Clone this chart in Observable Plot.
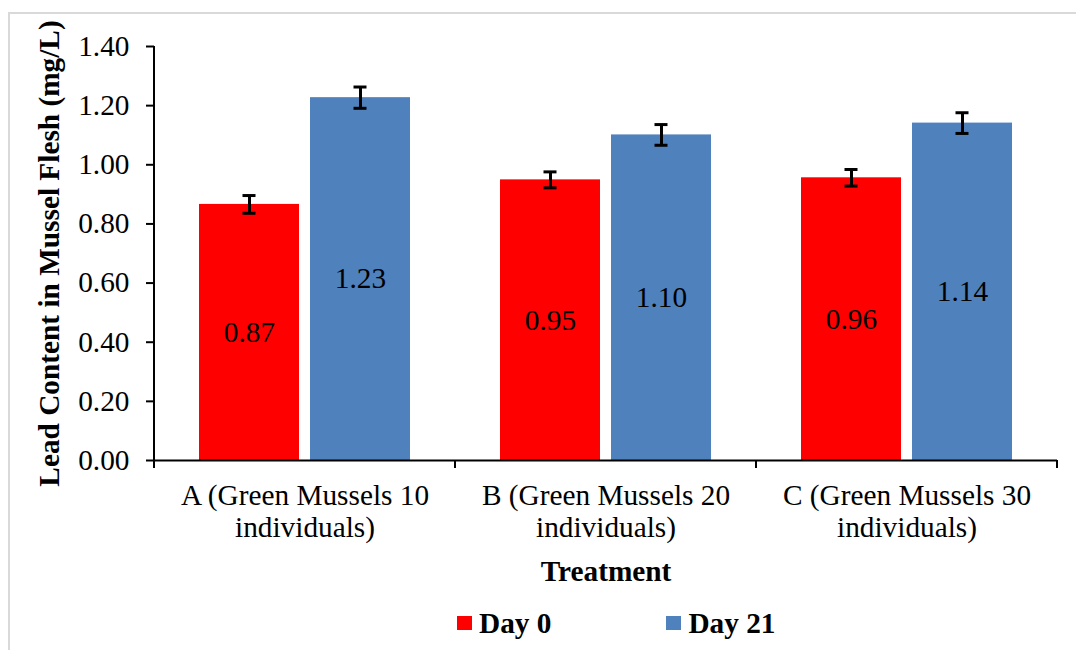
<!DOCTYPE html>
<html>
<head>
<meta charset="utf-8">
<script src="https://cdn.jsdelivr.net/npm/d3@7"></script>
<script src="https://cdn.jsdelivr.net/npm/@observablehq/plot@0.6"></script>
<style>
  body { margin: 0; background: #fff; }
  #wrap { position: relative; width: 1076px; height: 650px; overflow: hidden; font-family: "Liberation Serif", "Times New Roman", serif; }
  #frame { position: absolute; left: 8px; top: 12px; width: 1200px; height: 800px; border: 2px solid #d9d9d9; box-sizing: border-box; }
  #chart { position: absolute; left: 0; top: 0; }
  #legend { position: absolute; top: 607px; left: 457px; display: flex; gap: 115px; font-weight: bold; font-size: 29.3px; line-height: 32px; color: #000; }
  #legend .item { display: flex; align-items: center; }
  #legend .sw { width: 15px; height: 14px; margin-right: 7px; }
  #chart svg text { font-family: "Liberation Serif", "Times New Roman", serif; }
  [aria-label="y-axis label"] text, [aria-label="fx-axis label"] text { font-weight: bold; }
</style>
</head>
<body>
<div id="wrap">
  <div id="frame"></div>
  <div id="chart"></div>
  <div id="legend"></div>
</div>
<script>
// ---- data ----
const categories = ["A", "B", "C"];
const tickLabels = [
  "A (Green Mussels 10\nindividuals)",
  "B (Green Mussels 20\nindividuals)",
  "C (Green Mussels 30\nindividuals)"
];
const days = ["Day 0", "Day 21"];
const day0 = [0.866, 0.949, 0.956];
const day21 = [1.227, 1.101, 1.141];
const err0 = [0.030, 0.027, 0.028];
const err21 = [0.036, 0.035, 0.035];
const yTicks = [0, 0.2, 0.4, 0.6, 0.8, 1.0, 1.2, 1.4];
const colors = ["#FF0000", "#4F81BD"];
const yTitle = "Lead Content in Mussel Flesh (mg/L)";
const xTitle = "Treatment";

const data = categories.flatMap((c, i) => [
  {cat: c, day: days[0], value: day0[i], err: err0[i]},
  {cat: c, day: days[1], value: day21[i], err: err21[i]}
]);

const fmt = d3.format(".2f");
const serif = "'Liberation Serif', 'Times New Roman', serif";

const chart = Plot.plot({
  width: 1076,
  height: 600,
  marginTop: 46,
  marginLeft: 153,
  marginRight: 19,
  marginBottom: 140,
  style: {fontFamily: serif, fontSize: "29.3px", color: "#000", background: "transparent"},
  fx: {domain: categories, padding: 0},
  x: {domain: days, paddingInner: 0.098, paddingOuter: 0.397, axis: null},
  y: {domain: [0, 1.4]},
  color: {domain: days, range: colors},
  marks: [
    Plot.axisY({ticks: yTicks, tickFormat: fmt, tickSize: 8, tickPadding: 17, strokeWidth: 2, fontFamily: serif,
      label: yTitle, labelAnchor: "center", labelArrow: "none", labelOffset: 116}),
    Plot.axisFx({anchor: "bottom", tickFormat: d => tickLabels[categories.indexOf(d)], tickSize: 0, tickPadding: 22, lineHeight: 1.09,
      fontFamily: serif, label: xTitle, labelAnchor: "center", labelOffset: 120}),
    Plot.barY(data, {fx: "cat", x: "day", y: "value", fill: "day"}),
    Plot.ruleY([0], {strokeWidth: 2}),
    Plot.ruleX(data, {fx: "cat", x: "day", y1: d => d.value - d.err, y2: d => d.value + d.err, strokeWidth: 3}),
    Plot.tickY(data, {fx: "cat", x: "day", y: d => d.value + d.err, insetLeft: 43.5, insetRight: 43.5, strokeWidth: 3}),
    Plot.tickY(data, {fx: "cat", x: "day", y: d => d.value - d.err, insetLeft: 43.5, insetRight: 43.5, strokeWidth: 3}),
    Plot.text(data, Plot.stackY({fx: "cat", x: "day", y: "value", text: d => fmt(d.value), fill: "#000", fontFamily: serif}))
  ]
});

// axis line and category boundary ticks from the library's scales
const svg = d3.select(chart);
const ys = chart.scale("y"), fxs = chart.scale("fx");
const yBase = ys.apply(0), yTop = ys.apply(yTicks[yTicks.length - 1]);
const bounds = categories.map(c => fxs.apply(c)).concat([fxs.apply(categories[categories.length - 1]) + fxs.bandwidth]);
svg.append("line").attr("x1", bounds[0]).attr("x2", bounds[0]).attr("y1", yTop).attr("y2", yBase)
  .attr("stroke", "#000").attr("stroke-width", 2);
svg.append("g").selectAll("line").data(bounds).join("line")
  .attr("x1", d => d).attr("x2", d => d).attr("y1", yBase).attr("y2", yBase + 8)
  .attr("stroke", "#000").attr("stroke-width", 2);

document.getElementById("chart").appendChild(chart);

// legend
const legend = d3.select("#legend");
const items = legend.selectAll(".item").data(days).join("div").attr("class", "item");
items.append("div").attr("class", "sw").style("background", (d, i) => colors[i]);
items.append("span").text(d => d);
</script>
</body>
</html>
